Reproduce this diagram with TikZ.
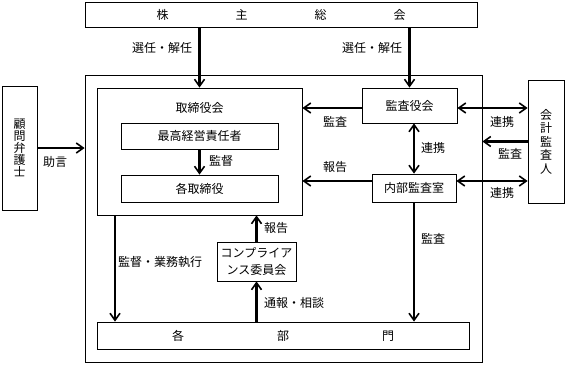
\documentclass[tikz,border=0pt]{standalone}
\usepackage{fontspec}
\setmainfont{Noto Sans CJK JP}
\usepackage{tikz}
\usetikzlibrary{arrows.meta}

\begin{document}
\begin{tikzpicture}[x=1pt, y=-1pt,
    box/.style={draw, line width=0.8pt, inner sep=0pt, align=center},
    arr/.style={line width=2.4pt, -{Straight Barb[length=7pt,width=10pt,line width=1.6pt]}},
    darr/.style={line width=2.4pt, {Straight Barb[length=7pt,width=10pt,line width=1.6pt]}-{Straight Barb[length=7pt,width=10pt,line width=1.6pt]}},
    lbl/.style={inner sep=0pt}]
    \fontsize{12pt}{14pt}\selectfont
    \useasboundingbox (0,0) rectangle (567,364);

    % 外框（会社）
    \node[box, minimum width=397, minimum height=287] (kaisha) at (283.5,218.5) {};

    % 各方框
    \node[box, minimum width=392, minimum height=25] (soukai) at (281,14.5)
        {株\hspace{67pt}主\hspace{67pt}総\hspace{67pt}会};
    \node[box, minimum width=205, minimum height=127] (tb) at (199.5,151.5) {};
    \node[lbl] (tbtitle) at (199.5,108) {取締役会};
    \node[box, minimum width=157, minimum height=26] (ceo) at (199.5,136) {最高経営責任者};
    \node[box, minimum width=157, minimum height=27] (kaku) at (199.5,188.5) {各取締役};
    \node[box, minimum width=95, minimum height=35] (ksy) at (409.5,105.5) {監査役会};
    \node[box, minimum width=84, minimum height=28] (naibu) at (414,188) {内部監査室};
    \node[box, minimum width=36, minimum height=123, font=\fontsize{12pt}{13.5pt}\selectfont] (kaikei) at (546,141.5)
        {会\\計\\監\\査\\人};
    \node[box, minimum width=35, minimum height=124, font=\fontsize{12pt}{12pt}\selectfont] (bengoshi) at (19.5,148)
        {顧\\問\\弁\\護\\士};
    \node[box, minimum width=79, minimum height=39, font=\fontsize{12pt}{17pt}\selectfont] (comp) at (256.5,261.5)
        {コンプライア\\ンス委員会};
    \node[box, minimum width=372, minimum height=27] (bumon) at (283,335.5)
        {各\hspace{93pt}部\hspace{93pt}門};
    \coordinate (kanri) at (115,0);

    % 株主総会からの矢印
    \draw[arr] (soukai.south -| tb) -- (tb.north);
    \draw[arr] (soukai.south -| ksy) -- (ksy.north);
    \node[lbl] at (162,48) {選任・解任};
    \node[lbl] at (372,48) {選任・解任};

    % 監査役会・内部監査室・会計監査人
    \draw[arr] ([yshift=-2.5pt]ksy.west) -- ([yshift=-2.5pt]ksy.west -| tb.east);
    \node[lbl] at (335,122) {監査};
    \draw[darr] ([yshift=-2.5pt]ksy.east) -- ([yshift=-2.5pt]ksy.east -| kaikei.west);
    \node[lbl] at (502,122) {連携};
    \draw[arr] (kaikei.west) -- (kaikei.west -| kaisha.east);
    \node[lbl] at (510,154) {監査};
    \draw[darr] (ksy.south -| naibu) -- (naibu.north);
    \node[lbl] at (433,148) {連携};
    \draw[arr] ([yshift=7pt]naibu.west) -- ([yshift=7pt]naibu.west -| tb.east);
    \node[lbl] at (335,167) {報告};
    \draw[darr] ([yshift=7pt]naibu.east) -- ([yshift=7pt]naibu.east -| kaikei.west);
    \node[lbl] at (502,193) {連携};
    \draw[arr] (naibu.south) -- (naibu.south |- bumon.north);
    \node[lbl] at (433,239) {監査};

    % 取締役会の内部
    \draw[arr] (ceo.south) -- (kaku.north);
    \node[lbl] at (221,161) {監督};

    % 顧問弁護士
    \draw[arr] (bengoshi.east) -- (bengoshi.east -| kaisha.west);
    \node[lbl] at (55,162) {助言};

    % 各部門との矢印
    \draw[arr] (tb.south -| kanri) -- (bumon.north -| kanri);
    \node[lbl] at (160,262) {監督・業務執行};
    \draw[arr] (comp.north) -- (comp.north |- tb.south);
    \node[lbl] at (276,228) {報告};
    \draw[arr] (bumon.north -| comp) -- (comp.south);
    \node[lbl] at (294,303) {通報・相談};
\end{tikzpicture}
\end{document}
